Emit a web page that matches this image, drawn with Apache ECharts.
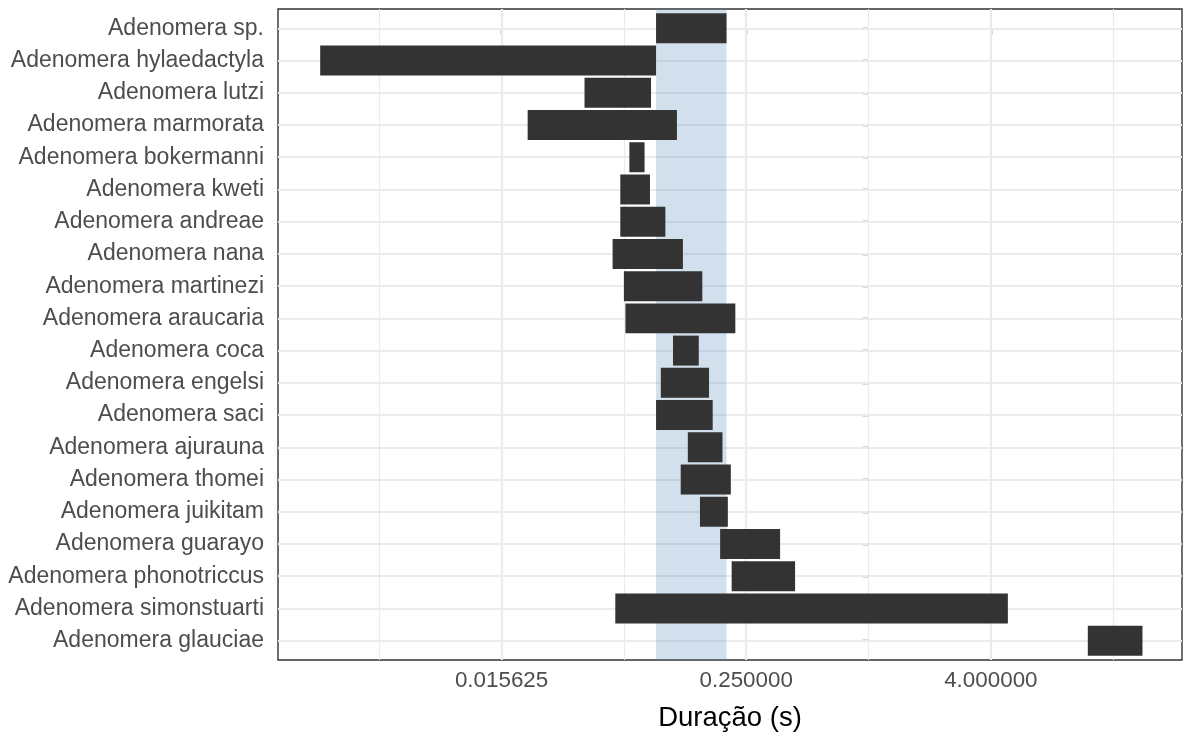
<!DOCTYPE html>
<html>
<head>
<meta charset="utf-8">
<script src="https://cdn.jsdelivr.net/npm/echarts@6/dist/echarts.min.js"></script>
<style>
html,body{margin:0;padding:0;background:#fff;}
#chart{width:1184px;height:733px;}
</style>
</head>
<body>
<div id="chart"></div>
<script>
// Species, top to bottom
var species = [
  'Adenomera sp.', 'Adenomera hylaedactyla', 'Adenomera lutzi', 'Adenomera marmorata',
  'Adenomera bokermanni', 'Adenomera kweti', 'Adenomera andreae', 'Adenomera nana',
  'Adenomera martinezi', 'Adenomera araucaria', 'Adenomera coca', 'Adenomera engelsi',
  'Adenomera saci', 'Adenomera ajurauna', 'Adenomera thomei', 'Adenomera juikitam',
  'Adenomera guarayo', 'Adenomera phonotriccus', 'Adenomera simonstuarti', 'Adenomera glauciae'
];
// Call duration range (s)
var durMin = [0.090, 0.002, 0.040, 0.021, 0.0665, 0.060, 0.060, 0.055, 0.0625, 0.0636,
              0.109, 0.095, 0.090, 0.129, 0.119, 0.148, 0.186, 0.212, 0.0567, 12.0];
var durMax = [0.200, 0.090, 0.085, 0.114, 0.079, 0.084, 0.100, 0.122, 0.152, 0.221,
              0.146, 0.164, 0.171, 0.191, 0.210, 0.203, 0.367, 0.435, 4.85, 22.3];
// Highlighted reference band (s)
var bandRange = [0.09, 0.20];
// Axis breaks (s)
var majorTicks = [0.015625, 0.25, 4];
var minorBreaks = [0.00390625, 0.0625, 1, 16];
var xLimits = [0.00124, 34.9];

var L = function (v) { return Math.log2(v); };
var barData = species.map(function (s, i) { return [i, L(durMin[i]), L(durMax[i])]; });
var catIdx = species.map(function (s, i) { return i; });

var FONT = 'Liberation Sans, Arial, Helvetica, sans-serif';
var chart = echarts.init(document.getElementById('chart'), null, {renderer: 'canvas'});
var option = {
  animation: false,
  backgroundColor: '#ffffff',
  grid: {left: 278, right: 2, top: 9, bottom: 73, outerBoundsMode: 'none', containLabel: false,
    show: true, borderColor: '#333333', borderWidth: 1.4, backgroundColor: 'transparent'},
  xAxis: {
    type: 'value', min: L(xLimits[0]), max: L(xLimits[1]),
    name: 'Duração (s)', nameLocation: 'middle', nameGap: 44,
    nameTextStyle: {fontFamily: FONT, fontSize: 27.5, color: '#000000'},
    axisLine: {show: false},
    axisTick: {show: true, length: 6, customValues: majorTicks.map(L), lineStyle: {color: '#333333', width: 1.4}},
    axisLabel: {customValues: majorTicks.map(L), margin: 10, fontFamily: FONT, fontSize: 22.4, color: '#4d4d4d',
      formatter: function (v) { return Math.pow(2, v).toFixed(6); }},
    splitLine: {show: false}
  },
  yAxis: {
    type: 'value', min: -0.6, max: species.length - 1 + 0.6, inverse: true,
    axisLine: {show: false},
    axisTick: {show: true, length: 6, customValues: catIdx, lineStyle: {color: '#333333', width: 1.4}},
    axisLabel: {customValues: catIdx, margin: 14, fontFamily: FONT, fontSize: 23, color: '#4d4d4d',
      formatter: function (v) { return species[Math.round(v)]; }},
    splitLine: {show: false}
  },
  series: [
    {
      type: 'line', data: [], z: 1, silent: true,
      markLine: {
        silent: true, symbol: 'none', z: 1, label: {show: false}, animation: false,
        emphasis: {disabled: true},
        data: [].concat(
          minorBreaks.map(function (v) { return {xAxis: L(v), lineStyle: {color: '#ebebeb', width: 1.2, type: 'solid'}}; }),
          majorTicks.map(function (v) { return {xAxis: L(v), lineStyle: {color: '#ebebeb', width: 2.2, type: 'solid'}}; }),
          catIdx.map(function (v) { return {yAxis: v, lineStyle: {color: '#ebebeb', width: 2.2, type: 'solid'}}; })
        )
      }
    },
    {
      type: 'line', data: [], z: 2, silent: true,
      markArea: {
        silent: true, z: 2, label: {show: false},
        itemStyle: {color: 'rgba(70,130,180,0.25)'},
        data: [[{xAxis: L(bandRange[0]), yAxis: -0.6}, {xAxis: L(bandRange[1]), yAxis: species.length - 1 + 0.6}]]
      }
    },
    {
      type: 'custom', z: 3,
      encode: {x: [1, 2], y: 0},
      data: barData,
      renderItem: function (params, api) {
        var y = api.value(0);
        var p0 = api.coord([api.value(1), y]);
        var p1 = api.coord([api.value(2), y]);
        var h = Math.abs(api.size([0, 1])[1]) * 0.93;
        return {
          type: 'rect',
          shape: {x: p0[0], y: p0[1] - h / 2, width: p1[0] - p0[0], height: h},
          style: {fill: '#333333'}
        };
      }
    }
  ]
};
chart.setOption(option);
</script>
</body>
</html>
